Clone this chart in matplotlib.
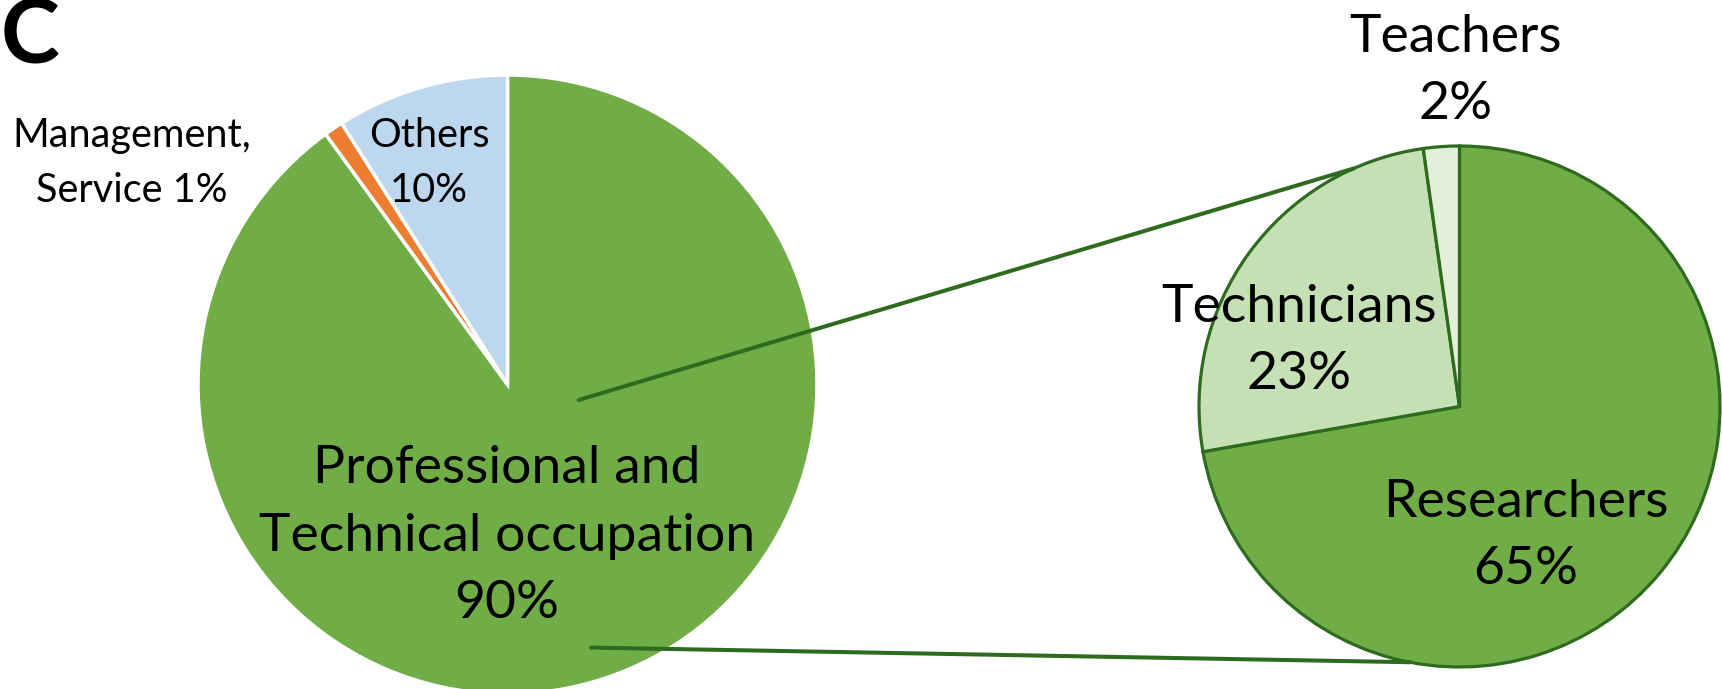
import matplotlib

matplotlib.use("Agg")

import matplotlib.pyplot as plt
import numpy as np
from matplotlib.patches import ConnectionPatch

# left pie: occupation of graduates
occ_labels = ["Professional and\nTechnical occupation\n90%", "Management,\nService 1%", "Others\n10%"]
occ_values = [90, 1, 9]
occ_colors = ["#70AD47", "#ED7D31", "#BDD7EE"]

# right pie: breakdown of the professional/technical slice
prof_labels = ["Researchers\n65%", "Technicians\n23%", "Teachers\n2%"]
prof_values = [65, 23, 2]
prof_colors = ["#70AD47", "#C5E0B4", "#E2F0D9"]

W, H = 1722, 689
EDGE = "#2E6B1E"
FONT = "Lato"


def box(x0, y0, x1, y1):
    # pixel box (top-down) -> figure fraction rect
    return [x0 / W, 1 - y1 / H, (x1 - x0) / W, (y1 - y0) / H]


def fpos(x, y):
    return x / W, 1 - y / H


fig = plt.figure(figsize=(W / 100, H / 100), dpi=100)

ax1 = fig.add_axes(box(198, 75, 817, 694))
ax1.pie(occ_values, colors=occ_colors, startangle=90, counterclock=False,
        wedgeprops=dict(edgecolor="white", linewidth=2.5))
ax1.set_xlim(-1, 1)
ax1.set_ylim(-1, 1)
ax1.axis("off")

ax2 = fig.add_axes(box(1199, 146, 1720, 667))
ax2.pie(prof_values, colors=prof_colors, startangle=90, counterclock=False,
        wedgeprops=dict(edgecolor=EDGE, linewidth=2.3))
ax2.set_xlim(-1, 1)
ax2.set_ylim(-1, 1)
ax2.axis("off")

# connector lines between the two pies
starts = [(0.23, -0.05), (0.27, -0.85)]
end_angles = [114, 259]
for (sx, sy), ang in zip(starts, end_angles):
    a = np.deg2rad(ang)
    con = ConnectionPatch(xyA=(sx, sy), coordsA=ax1.transData,
                          xyB=(np.cos(a), np.sin(a)), coordsB=ax2.transData,
                          color=EDGE, linewidth=2.9, zorder=5)
    fig.add_artist(con)

big = dict(fontsize=38.5, family=FONT, ha="center", va="center", linespacing=1.53)
small = dict(fontsize=28.5, family=FONT, ha="center", va="center", linespacing=1.6)

fig.text(*fpos(507, 536), occ_labels[0], **big)
fig.text(*fpos(132, 163), occ_labels[1], **small)
fig.text(*fpos(429, 163), occ_labels[2], **small)
fig.text(*fpos(1526, 536), prof_labels[0], **big)
fig.text(*fpos(1299, 341), prof_labels[1], **big)
fig.text(*fpos(1456, 71), prof_labels[2], **big)

fig.text(*fpos(1, 38), "C", fontsize=64, family=FONT, fontweight="bold",
         ha="left", va="center")

fig.savefig("out.png", dpi=100)
